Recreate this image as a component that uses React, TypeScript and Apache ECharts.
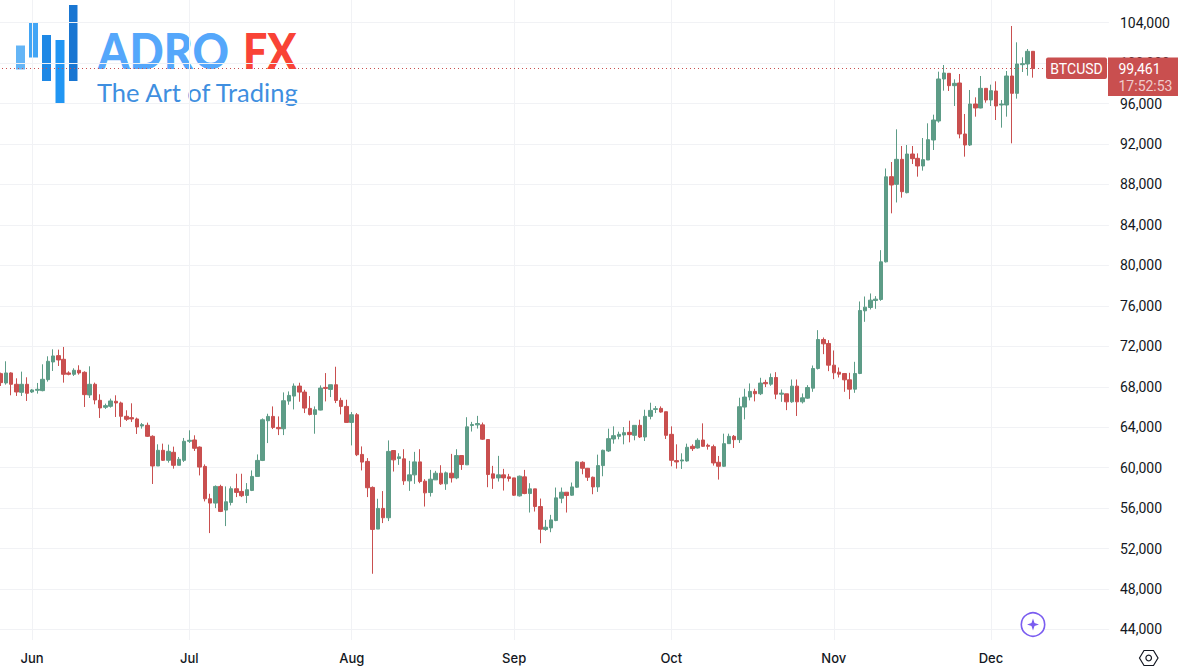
import React, { useEffect, useRef } from "react";
import * as echarts from "echarts";

const direction =
  "RGRRGRGGGG" + "GRRRGRRGRR" + "GGRRRRRGRR" + "GRGRGGGRRR" + "RGRGGRRGGG" +
  "GGRRGGGRRR" + "GGRGRRRGRR" + "RRGRGRGRGG" + "RRGGRGRGRG" + "GGRRRGRRRG" +
  "RGRRGGGGRG" + "GRRRGGGGGG" + "RGRGGGRRRR" + "GGRGRRRRGG" + "RGGGRGRGRG" +
  "RGRGGGGRRR" + "RRRGGGGGGG" + "RGRGRRGGGG" + "GRGRRGRGRG" + "RGGRGGGR";

const bodyTops = [
  69297, 69363, 69363, 68243, 68243, 68243, 67682, 67748, 68737, 70517,
  71044, 71077, 70715, 69363, 69627, 69627, 69429, 68243, 68243, 66660,
  66133, 66595, 66562, 66397, 65078, 64947, 64815, 64254, 64188, 63101,
  61716, 61716, 61618, 61519, 60827, 62607, 62705, 62738, 62035, 60123,
  56926, 58145, 58145, 56629, 57915, 57915, 57651, 57816, 59134, 60716,
  64737, 65067, 65067, 63979, 66616, 67143, 68066, 68066, 67473, 65858,
  65726, 67869, 67935, 68198, 68198, 66649, 66056, 65232, 65232, 61310,
  60617, 58047, 55970, 55970, 61606, 61693, 61067, 60869, 59287, 60572,
  60572, 58661, 58859, 59452, 59452, 59485, 59452, 61199, 61199, 64033,
  64264, 64363, 64231, 62781, 59386, 59287, 59287, 59089, 58990, 59155,
  59089, 57903, 57903, 56156, 54112, 54837, 57013, 57573, 57573, 58100,
  60572, 60532, 59939, 59051, 60203, 61716, 62868, 63164, 63295, 63460,
  63493, 64184, 64184, 65072, 65664, 65829, 65861, 65532, 63295, 60696,
  60762, 62012, 62111, 62703, 62736, 62210, 62078, 60532, 62374, 63098,
  63098, 66026, 66980, 67539, 67539, 68362, 68428, 68916, 68916, 67367,
  67301, 68059, 68059, 66906, 67927, 69806, 72673, 72673, 72278, 70135,
  69443, 69311, 68685, 69311, 75541, 75870, 76563, 76662, 80353, 88758,
  88772, 90486, 90486, 91013, 91013, 90585, 90453, 92431, 94375, 98429,
  99023, 98990, 98001, 98034, 92991, 95957, 95957, 97506, 97506, 97276,
  97243, 95957, 98726, 98726, 99913, 99945, 101165, 101165,
];

const bodyBottoms = [
  68407, 68374, 68243, 67484, 67451, 67353, 67484, 67649, 67616, 68704,
  70451, 70649, 69231, 69231, 69231, 69363, 67221, 67188, 66693, 65903,
  65968, 66067, 66397, 65078, 64782, 64815, 64024, 64122, 63101, 60167,
  60167, 60728, 60728, 60233, 60233, 60728, 62607, 61914, 60057, 56926,
  56497, 56497, 55674, 55805, 56563, 57552, 57223, 57256, 57750, 59134,
  60716, 64639, 63979, 63848, 63848, 66583, 67078, 67473, 65891, 65265,
  65265, 65693, 67836, 67737, 66649, 66056, 64474, 64474, 61277, 60551,
  58014, 53893, 53927, 55047, 55047, 60770, 60902, 58694, 58694, 59287,
  58628, 57507, 57540, 58793, 58397, 58397, 58990, 58990, 60309, 60276,
  64165, 64231, 62814, 59320, 58957, 58990, 58990, 58924, 57276, 57211,
  57441, 57441, 56156, 53915, 53882, 54046, 54771, 56980, 57244, 57276,
  58067, 59939, 59051, 58097, 58097, 60203, 61650, 62835, 63098, 63229,
  63262, 63197, 63032, 63032, 65072, 65763, 65500, 63197, 60729, 60565,
  60663, 60663, 61881, 61946, 62111, 62111, 60466, 60137, 60137, 62374,
  62769, 62769, 65993, 66980, 67309, 67309, 68296, 68257, 67268, 67268,
  66510, 66510, 66510, 66510, 66873, 67861, 69806, 72245, 70135, 69378,
  69246, 68685, 67762, 67762, 69311, 75508, 75838, 76530, 76629, 80353,
  87948, 88014, 87289, 87190, 90552, 89827, 89827, 90420, 92398, 94276,
  98429, 97770, 97770, 92991, 91903, 91903, 95562, 95562, 96353, 96353,
  95760, 95858, 95858, 97012, 97012, 99847, 99913, 99461,
];

const highs = [
  69396, 70517, 69429, 68836, 69495, 68935, 67781, 68374, 70220, 71011,
  71703, 71670, 71934, 69528, 69825, 70121, 69528, 70022, 68407, 67254,
  66331, 66825, 67155, 66529, 65672, 66364, 64947, 64419, 64452, 63200,
  62310, 62376, 62277, 62079, 61057, 62936, 63694, 63200, 62101, 60321,
  57420, 58244, 58310, 58145, 58145, 59398, 59398, 58475, 59727, 61310,
  64869, 65331, 66056, 65067, 67440, 67539, 68330, 68396, 67704, 67078,
  66056, 68132, 69352, 68198, 69978, 66913, 66715, 65495, 65397, 62101,
  60947, 58145, 56926, 57684, 62694, 61693, 61429, 61825, 60671, 61561,
  61825, 58859, 59781, 59683, 60243, 59617, 61364, 61825, 61199, 64989,
  64528, 65121, 64462, 62781, 60177, 61166, 59880, 59386, 58990, 59221,
  59781, 58463, 57903, 56947, 54837, 55332, 58035, 58035, 57573, 58529,
  60638, 60630, 59972, 59117, 61288, 61782, 63855, 64085, 63558, 64019,
  64644, 64184, 64743, 65730, 66421, 66092, 66059, 65532, 64085, 62308,
  61420, 62374, 62308, 62900, 64381, 62374, 62275, 61157, 63361, 63361,
  63229, 66914, 67803, 68329, 67803, 68888, 68691, 69311, 69443, 67729,
  67301, 68718, 68718, 67334, 68158, 70102, 73596, 72871, 72607, 71586,
  69905, 69311, 69378, 70465, 76431, 76925, 77222, 76958, 81507, 89582,
  90222, 93452, 91805, 91903, 91805, 91079, 92595, 94046, 94903, 99154,
  99814, 98990, 98396, 98924, 94969, 97342, 96617, 98726, 97506, 97869,
  98199, 96353, 99220, 103670, 102055, 100572, 101396, 101165,
];

const lows = [
  68078, 68210, 67155, 67089, 67089, 66595, 67386, 67320, 67550, 68506,
  69561, 70055, 68407, 69132, 69066, 69198, 66001, 66891, 66265, 64914,
  65804, 65935, 65012, 64024, 64617, 64518, 63332, 63859, 63035, 58387,
  60167, 60662, 60497, 59904, 60233, 60563, 62442, 61651, 59233, 56662,
  53531, 56003, 55608, 54223, 56267, 57091, 57091, 56497, 57684, 59134,
  60650, 62430, 63814, 63221, 63221, 66221, 65759, 66517, 65397, 65166,
  63353, 65660, 66550, 66979, 66385, 65265, 64474, 62199, 61145, 59727,
  57091, 49510, 53927, 54520, 54718, 59617, 60276, 58298, 57705, 58397,
  58463, 56156, 57145, 58793, 58298, 57804, 58529, 58859, 59781, 60276,
  63572, 63868, 62748, 58067, 57903, 58628, 57738, 58628, 57211, 57145,
  57375, 55563, 55662, 52530, 53750, 53618, 54705, 56485, 55563, 57211,
  58002, 59347, 58689, 57373, 57604, 59150, 61552, 62374, 62802, 62308,
  62506, 62703, 62933, 62637, 64776, 65401, 65434, 62835, 60137, 59907,
  59874, 60597, 61650, 61881, 62045, 61782, 60203, 58821, 60071, 62374,
  61946, 62440, 64776, 66651, 66552, 67177, 67967, 68092, 66774, 66510,
  65686, 66411, 65111, 66345, 66807, 67499, 69707, 71223, 69542, 68751,
  68916, 67499, 66774, 67400, 69246, 74420, 75640, 75706, 76497, 80287,
  85146, 86220, 86696, 87124, 90025, 88772, 89365, 90420, 91409, 94111,
  97276, 97243, 95760, 92562, 90750, 91804, 94705, 95529, 96089, 95760,
  94375, 93617, 94705, 92068, 96485, 99121, 98759, 98561,
];

const priceTicks = [44000, 48000, 52000, 56000, 60000, 64000, 68000, 72000, 76000, 80000, 84000, 88000, 92000, 96000, 100000, 104000];
const monthStarts = ["2024-06-01", "2024-07-01", "2024-08-01", "2024-09-01", "2024-10-01", "2024-11-01", "2024-12-01"];
const monthLabels = ["Jun", "Jul", "Aug", "Sep", "Oct", "Nov", "Dec"];
const lastPrice = 99461;
const symbolName = "BTCUSD";
const countdown = "17:52:53";

const GREEN = "#5d9c87";
const RED = "#c94f4f";
const GRID = "#f1f2f5";
const INK = "#131722";

const slotCount = 212;
const categories: string[] = [];
for (let i = 0; i < slotCount; i++) {
  const d = new Date(Date.UTC(2024, 4, 26 + i));
  categories.push(d.toISOString().slice(0, 10));
}
const candles = direction.split("").map((dir, i) =>
  dir === "G"
    ? [bodyBottoms[i], bodyTops[i], lows[i], highs[i]]
    : [bodyTops[i], bodyBottoms[i], lows[i], highs[i]]
);

const logoBars = [
  { x: 16, y: 45.5, w: 9, h: 24, c: "#64b5f6" },
  { x: 29, y: 22, w: 9, h: 35.5, c: "#42a5f5" },
  { x: 42, y: 35, w: 9, h: 46, c: "#1e88e5" },
  { x: 55.5, y: 40, w: 9, h: 64, c: "#2196f3" },
  { x: 69, y: 5, w: 8.5, h: 76, c: "#1976d2" },
];

export default function App() {
  const ref = useRef<HTMLDivElement>(null);
  useEffect(() => {
    document.body.style.margin = "0";
    const chart = echarts.init(ref.current!, undefined, { renderer: "svg" });
    chart.setOption({
      animation: false,
      backgroundColor: "#ffffff",
      grid: { left: -2, top: 0, width: 1110.9, height: 640, containLabel: false, outerBoundsMode: "none" },
      xAxis: {
        type: "category",
        data: categories,
        boundaryGap: true,
        axisLine: { show: false },
        axisTick: { show: false },
        splitLine: { show: false },
        axisLabel: {
          interval: (_: number, v: string) => monthStarts.includes(v),
          formatter: (v: string) => monthLabels[monthStarts.indexOf(v)],
          margin: 11,
          color: INK,
          fontFamily: "Inter",
          fontWeight: 500,
          fontSize: 13,
        },
      },
      yAxis: {
        type: "value",
        position: "right",
        min: 42960,
        max: 106240,
        axisLine: { show: false },
        axisTick: { show: false, customValues: priceTicks },
        splitLine: { show: true, lineStyle: { color: GRID, width: 1 } },
        axisLabel: {
          customValues: priceTicks,
          margin: 11,
          color: INK,
          fontFamily: "Roboto",
          fontSize: 14,
          formatter: (v: number) => v.toLocaleString("en-US"),
        },
      },
      series: [
        {
          type: "candlestick",
          z: 3,
          data: candles,
          barWidth: 4,
          itemStyle: {
            color: GREEN,
            color0: RED,
            borderColor: GREEN,
            borderColor0: RED,
            borderWidth: 1,
          },
          markLine: {
            silent: true,
            symbol: "none",
            label: { show: false },
            lineStyle: { color: RED, width: 1, type: [1, 3] },
            data: [{ yAxis: lastPrice }],
          },
        },
        {
          type: "line",
          z: 0,
          data: [],
          markLine: {
            z: 1,
            silent: true,
            symbol: "none",
            label: { show: false },
            lineStyle: { color: GRID, width: 1, type: "solid" },
            data: monthStarts.map((m) => ({ xAxis: m })),
          },
        },
      ],
      graphic: [
        ...logoBars.map((b) => ({
          type: "rect",
          z: 0,
          shape: { x: b.x, y: b.y, width: b.w, height: b.h },
          style: { fill: b.c },
        })),
        { type: "text", z: 0, x: 98, y: 25, scaleX: 0.9, style: { text: "ADRO", fill: "#55a7fb", font: "900 50px Lato" } },
        { type: "text", z: 0, x: 243, y: 25, scaleX: 0.86, style: { text: "FX", fill: "#f94336", font: "900 50px Lato" } },
        { type: "text", z: 0, x: 97, y: 78.5, style: { text: "The Art of Trading", fill: "#3f8fe0", font: "400 25.5px Lato" } },
        { type: "rect", z: 100, shape: { x: 1046, y: 57.5, width: 61, height: 21.5, r: 2 }, style: { fill: RED } },
        { type: "text", z: 101, x: 1076.5, y: 68.5, style: { text: symbolName, fill: "#fff", font: "14px Roboto", align: "center", verticalAlign: "middle" } },
        { type: "rect", z: 100, shape: { x: 1108, y: 57.5, width: 70, height: 38.5 }, style: { fill: RED } },
        { type: "text", z: 101, x: 1118.5, y: 68.5, style: { text: lastPrice.toLocaleString("en-US"), fill: "#fff", font: "14px Roboto", verticalAlign: "middle" } },
        { type: "text", z: 101, x: 1118.5, y: 85.5, style: { text: countdown, fill: "rgba(255,255,255,0.72)", font: "14px Roboto", verticalAlign: "middle" } },
        { type: "circle", z: 100, shape: { cx: 1033, cy: 624.5, r: 11.7 }, style: { fill: "#fff", stroke: "#7a5cf0", lineWidth: 1.6 } },
        {
          type: "polygon",
          z: 101,
          shape: { points: [[1033, 618.5], [1034.5, 623], [1039, 624.5], [1034.5, 626], [1033, 630.5], [1031.5, 626], [1027, 624.5], [1031.5, 623]] },
          style: { fill: "#7a5cf0" },
        },
        {
          type: "polygon",
          z: 101,
          shape: { points: [[1139.5, 658], [1144, 650.5], [1153.5, 650.5], [1158, 658], [1153.5, 665.5], [1144, 665.5]] },
          style: { fill: "#fff", stroke: INK, lineWidth: 1.2 },
        },
        { type: "circle", z: 102, shape: { cx: 1148.7, cy: 658, r: 2.8 }, style: { fill: "#fff", stroke: INK, lineWidth: 1.2 } },
      ],
    });
    return () => chart.dispose();
  }, []);
  return <div ref={ref} style={{ width: 1182, height: 672, position: "absolute", left: 0, top: 0 }} />;
}
